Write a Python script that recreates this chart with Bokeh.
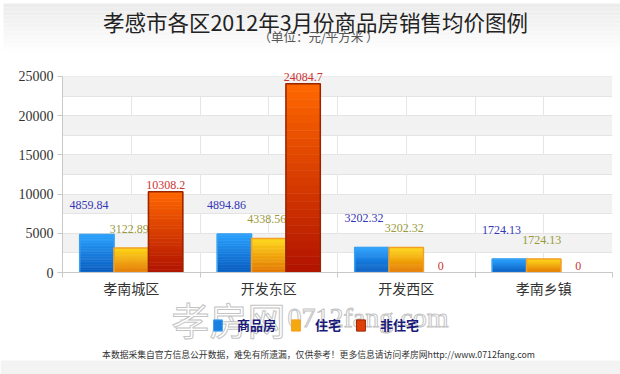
import math
from bokeh.plotting import figure
from bokeh.layouts import column
from bokeh.models import (ColumnDataSource, FixedTicker, Label, Legend, LegendItem,
                          BoxAnnotation, Range1d)
from bokeh.embed import file_html
from bokeh.resources import INLINE
from bokeh.core.properties import value

# ---------------- data ----------------
categories = ["孝南城区", "开发东区", "开发西区", "孝南乡镇"]
series_names = ["商品房", "住宅", "非住宅"]
commercial = [4859.84, 4894.86, 3202.32, 1724.13]
residential = [3122.89, 4338.56, 3202.32, 1724.13]
non_residential = [10308.2, 24084.7, 0, 0]
y_ticks = [0, 5000, 10000, 15000, 20000, 25000]
y_band_step = 2500

title_text = "孝感市各区2012年3月份商品房销售均价图例"
subtitle_text = "（单位：元/平方米 ）"
footer_text = "本数据采集自官方信息公开数据，难免有所遗漏，仅供参考！更多信息请访问孝房网http://www.0712fang.com"
watermark_cn = "孝房网"
watermark_url = "0712fang.com"

# ---------------- style ----------------
series = [commercial, residential, non_residential]
bar_offsets = [-0.25, 0.0, 0.25]
bar_width = 0.25
top_colors = [(0x2a, 0xa2, 0xff), (0xff, 0xd8, 0x1a), (0xff, 0x68, 0x00)]
bottom_colors = [(0x08, 0x5a, 0xbe), (0xe2, 0x74, 0x00), (0xb0, 0x12, 0x00)]
mid_colors = ["#1a7fe0", "#f5a80e", "#e04008"]
line_colors = ["#3aa0f0", "#f2a02a", "#9a2400"]
label_colors = ["#3535b8", "#9a9a3c", "#cc3333"]
label_dx = [-8, -2, 0]
label_dy = [-29, -19, -7]
N_SLICES = 24

W = 620
TOP_H, MAIN_H, BOT_H, BOT_OVERLAP = 60, 240, 96, 22
PLOT_TOP_PX, FRAME_TOP_PX, AXIS_PX = 76, 68, 273   # page rows of the 25000 line, frame top, zero line


def hexcol(c):
    return "#%02x%02x%02x" % tuple(int(round(v)) for v in c)


def blank_fig(h, y0, transparent=False):
    f = figure(width=W, height=h, output_backend="svg", toolbar_location=None,
               x_range=Range1d(0, W), y_range=Range1d(y0 + h, y0),
               x_axis_location=None, y_axis_location=None, min_border=0)
    f.frame_align = False
    f.grid.visible = False
    f.outline_line_color = None
    if transparent:
        f.background_fill_alpha = 0
        f.border_fill_alpha = 0
    else:
        f.background_fill_color = "white"
        f.border_fill_color = "white"
    return f


# ---------------- top: title ----------------
pt = blank_fig(TOP_H, 0)
for j in range(12):
    g = 236 + j * 1.6
    pt.add_layout(BoxAnnotation(left=3, right=W, top=3 + j * 4, bottom=3 + (j + 1) * 4,
                                fill_color=hexcol((g, g, g)), fill_alpha=1, line_color=None))
pt.add_layout(Label(x=315, y=21, text=title_text, text_align="center", text_baseline="middle",
                    text_font="Noto Sans CJK SC", text_font_size="21.5px", text_color="#222222"))
pt.add_layout(Label(x=318, y=36, text=subtitle_text, text_align="center", text_baseline="middle",
                    text_font="Noto Sans CJK SC", text_font_size="12.5px", text_color="#555555"))

# ---------------- main chart ----------------
n = len(categories)
y_end = y_ticks[-1] * (AXIS_PX - FRAME_TOP_PX) / (AXIS_PX - PLOT_TOP_PX)
p = figure(width=W, height=MAIN_H, output_backend="svg", toolbar_location=None,
           x_range=Range1d(0, n), y_range=Range1d(0, y_end),
           min_border_left=62, min_border_right=8,
           min_border_top=FRAME_TOP_PX - TOP_H, min_border_bottom=TOP_H + MAIN_H - AXIS_PX)
p.frame_align = False
p.outline_line_color = None
p.background_fill_color = "white"
p.border_fill_color = "white"

p.xgrid.ticker = FixedTicker(ticks=[k / 2 for k in range(2 * n + 1)])
p.xgrid.grid_line_color = "#e6e6e6"
band_ticks = [y_ticks[0] + k * y_band_step
              for k in range(int((y_ticks[-1] - y_ticks[0]) / y_band_step) + 1)]
p.ygrid.ticker = FixedTicker(ticks=band_ticks)
p.ygrid.grid_line_color = "#e4e4e4"
p.ygrid.band_fill_color = "#f2f2f2"
p.ygrid.band_fill_alpha = 1
# keep the strip above the top tick clean
p.add_layout(BoxAnnotation(bottom=y_ticks[-1], fill_color="white", fill_alpha=1,
                           line_color=None, level="underlay"))
p.add_layout(BoxAnnotation(bottom=y_ticks[-1], top=y_ticks[-1], line_color="#e4e4e4",
                           line_width=1, fill_alpha=0, level="underlay"))

p.yaxis.ticker = FixedTicker(ticks=y_ticks)
p.yaxis.bounds = (y_ticks[0], y_ticks[-1])
p.yaxis.major_label_text_font = "Liberation Serif"
p.yaxis.major_label_text_font_size = "14px"
p.yaxis.major_label_text_color = "#333333"
p.yaxis.axis_line_color = "#c8c8c8"
p.yaxis.major_tick_line_color = "#c8c8c8"
p.yaxis.major_tick_out = 5
p.yaxis.major_tick_in = 0
p.yaxis.minor_tick_line_color = None
p.yaxis.major_label_standoff = 4

centers = [i + 0.5 for i in range(n)]
p.xaxis.ticker = FixedTicker(ticks=centers, minor_ticks=list(range(n + 1)))
p.xaxis.major_label_overrides = {c: cat for c, cat in zip(centers, categories)}
p.xaxis.major_label_text_font = "Noto Sans CJK SC"
p.xaxis.major_label_text_font_size = "14px"
p.xaxis.major_label_text_color = "#333333"
p.xaxis.axis_line_color = "#c8c8c8"
p.xaxis.major_tick_line_color = None
p.xaxis.major_tick_out = 0
p.xaxis.major_tick_in = 0
p.xaxis.minor_tick_line_color = "#c8c8c8"
p.xaxis.minor_tick_out = 5
p.xaxis.minor_tick_in = 0
p.xaxis.major_label_standoff = 0

for s, vals in enumerate(series):
    xs, bots, tops, cols = [], [], [], []
    for i, v in enumerate(vals):
        for k in range(N_SLICES):
            t = (k + 0.5) / N_SLICES
            c = tuple(b + (tc - b) * t for b, tc in zip(bottom_colors[s], top_colors[s]))
            xs.append(centers[i] + bar_offsets[s])
            bots.append(v * k / N_SLICES)
            tops.append(v * (k + 1) / N_SLICES)
            cols.append(hexcol(c))
    src = ColumnDataSource(dict(x=xs, bottom=bots, top=tops, color=cols))
    p.vbar(x="x", bottom="bottom", top="top", width=bar_width, source=src,
           fill_color="color", line_color="color", line_width=0.6)

    osrc = ColumnDataSource(dict(x=[c + bar_offsets[s] for c in centers], top=vals,
                                 alpha=[0 if v == 0 else 1 for v in vals]))
    p.vbar(x="x", top="top", width=bar_width, source=osrc, fill_color=None,
           line_color=line_colors[s], line_width=1.5, line_alpha="alpha")

    lsrc = ColumnDataSource(dict(x=[c + bar_offsets[s] for c in centers], y=vals,
                                 text=["{:g}".format(v) for v in vals]))
    p.text(x="x", y="y", text="text", source=lsrc, x_offset=label_dx[s], y_offset=label_dy[s],
           text_align="center", text_baseline="middle", text_font=value("Liberation Serif"),
           text_font_size="12px", text_color=label_colors[s])

# ---------------- bottom (transparent overlay): legend, watermark, footer ----------------
Y0 = TOP_H + MAIN_H - BOT_OVERLAP
pb = blank_fig(BOT_H, Y0, transparent=True)
pb.margin = (-BOT_OVERLAP, 0, 0, 0)
pb.add_layout(BoxAnnotation(left=0, right=W, top=360, bottom=374,
                            fill_color="#f3f3f3", fill_alpha=1, line_color=None))
pb.add_layout(Label(x=228, y=318, text=watermark_cn, text_align="center", text_baseline="middle",
                    text_font="Noto Sans CJK SC", text_font_size="38px",
                    text_color="white", text_outline_color="#c4c4c4"))
pb.add_layout(Label(x=287, y=317, text=watermark_url, text_align="left", text_baseline="middle",
                    text_font="Liberation Serif", text_font_size="28px",
                    text_color="white", text_outline_color="#c4c4c4"))
pb.add_layout(Label(x=318, y=354, text=footer_text, text_align="center", text_baseline="middle",
                    text_font="Noto Sans CJK SC", text_font_size="8.8px", text_color="#333333"))

nan = float("nan")
items = []
for s, name in enumerate(series_names):
    r = pb.quad(left=[nan], right=[nan], top=[nan], bottom=[nan], fill_color=mid_colors[s],
                line_color=line_colors[s])
    items.append(LegendItem(label=name, renderers=[r]))
legend = Legend(items=items, orientation="horizontal", location=(212, Y0 + BOT_H - 334),
                glyph_width=11, glyph_height=14, label_standoff=14, spacing=14,
                padding=0, margin=0, border_line_color=None, background_fill_alpha=0,
                label_text_font="Noto Sans CJK SC", label_text_font_size="13px",
                label_text_color="#1a1a7a", label_text_font_style="bold", label_height=14)
pb.add_layout(legend, "center")

layout = column(pt, p, pb, spacing=0)
open("out.html", "w").write(file_html(layout, INLINE))
